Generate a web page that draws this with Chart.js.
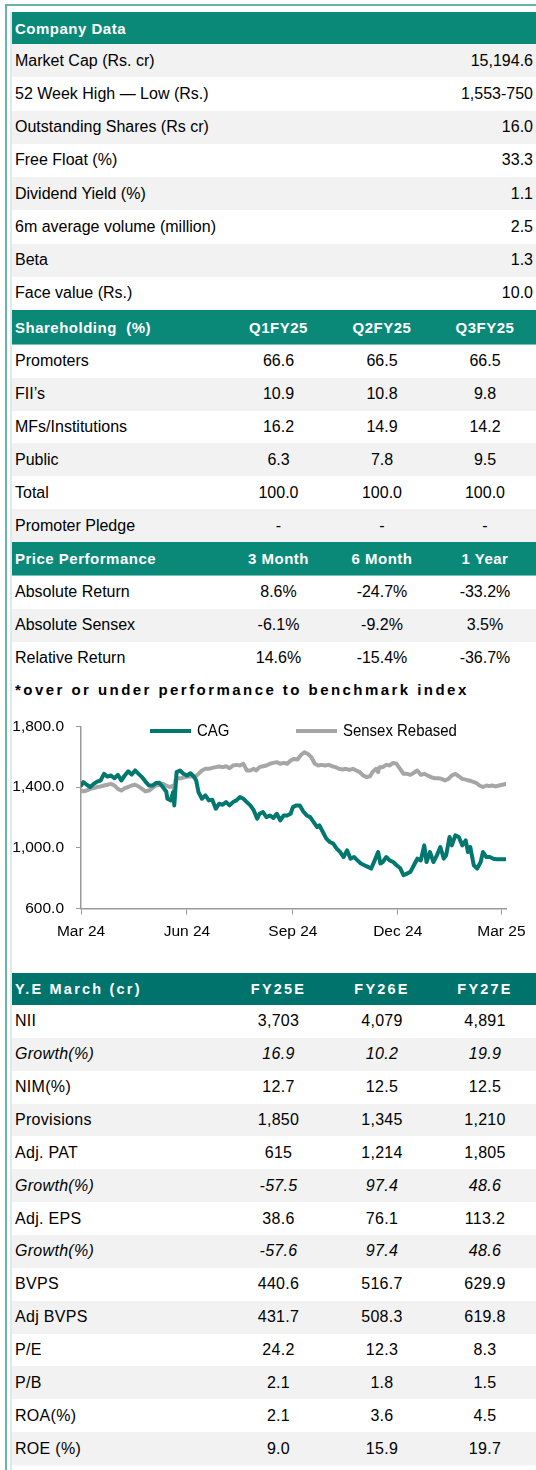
<!DOCTYPE html>
<html lang="en">
<head>
    <meta charset="UTF-8">
    <title>CAG - Company Data</title>
    <script src="https://cdn.jsdelivr.net/npm/chart.js@4"></script>
    <style>
        body { margin: 0; background: #fff; font-family: "Liberation Sans", Arial, sans-serif; color: #000; }
        #page { position: relative; width: 536px; height: 1470px; overflow: hidden; }
        .edge-left { position: absolute; left: 5px; top: 4px; width: 2px; height: 1466px; background: #62b6ab; }
        .edge-top { position: absolute; left: 5px; top: 4px; width: 531px; height: 2px; background: #62b6ab; }
        .edge-inner { position: absolute; left: 10px; top: 12px; width: 2px; height: 1458px; background: #e6e6e6; }
        #content { position: absolute; left: 12px; top: 12px; width: 524px; }
        .row { display: flex; align-items: center; height: 33.25px; font-size: 16px; }
        .row.gray { background: #f2f2f2; }
        .row .lab { flex: 1; padding-left: 3px; }
        .row .val { padding-right: 3px; text-align: right; }
        .c0 { width: 215px; padding-left: 3px; box-sizing: border-box; }
        .c1 { width: 103px; text-align: center; }
        .c2 { width: 104px; text-align: center; }
        .c3 { width: 102px; text-align: center; }
        .head { display: flex; align-items: center; background: #0a8979; color: #fff; font-weight: bold; font-size: 15px; letter-spacing: 0.5px; }
        .head.line { border-bottom: 1px solid #74c3b8; box-sizing: border-box; }
        .head.dark { background: #00736d; font-size: 14.5px; letter-spacing: 2.2px; }
        .sh .row { height: 32.83px; }
        .pp .row { height: 33px; }
        .fin .row { height: 32.86px; letter-spacing: 0.3px; }
        .it { font-style: italic; }
        .note { height: 30px; display: flex; align-items: center; padding-left: 3px; font-weight: bold; font-size: 15px; letter-spacing: 2.45px; }
        #chartBox { position: relative; width: 524px; height: 240px; }
        .legend { position: absolute; top: 16px; height: 20px; display: flex; align-items: center; font-size: 17px; }
        .legend i { display: inline-block; width: 41px; height: 4px; margin-right: 6px; }
        .legend span { display: inline-block; transform: scaleX(0.88); transform-origin: left center; }
    </style>
</head>
<body>
<div id="page">
    <div class="edge-left"></div>
    <div class="edge-top"></div>
    <div class="edge-inner"></div>

    <div id="content">
        <!-- Company data -->
        <div class="head" style="height:32px"><span class="c0">Company Data</span></div>
        <div class="row gray"><span class="lab">Market Cap (Rs. cr)</span><span class="val">15,194.6</span></div>
        <div class="row"><span class="lab">52 Week High — Low (Rs.)</span><span class="val">1,553-750</span></div>
        <div class="row gray"><span class="lab">Outstanding Shares (Rs cr)</span><span class="val">16.0</span></div>
        <div class="row"><span class="lab">Free Float (%)</span><span class="val">33.3</span></div>
        <div class="row gray"><span class="lab">Dividend Yield (%)</span><span class="val">1.1</span></div>
        <div class="row"><span class="lab">6m average volume (million)</span><span class="val">2.5</span></div>
        <div class="row gray"><span class="lab">Beta</span><span class="val">1.3</span></div>
        <div class="row"><span class="lab">Face value (Rs.)</span><span class="val">10.0</span></div>

        <!-- Shareholding -->
        <div class="sh">
            <div class="head line" style="height:35px"><span class="c0">Shareholding&nbsp; (%)</span><span class="c1">Q1FY25</span><span class="c2">Q2FY25</span><span class="c3">Q3FY25</span></div>
            <div class="row"><span class="c0">Promoters</span><span class="c1">66.6</span><span class="c2">66.5</span><span class="c3">66.5</span></div>
            <div class="row gray"><span class="c0">FII’s</span><span class="c1">10.9</span><span class="c2">10.8</span><span class="c3">9.8</span></div>
            <div class="row"><span class="c0">MFs/Institutions</span><span class="c1">16.2</span><span class="c2">14.9</span><span class="c3">14.2</span></div>
            <div class="row gray"><span class="c0">Public</span><span class="c1">6.3</span><span class="c2">7.8</span><span class="c3">9.5</span></div>
            <div class="row"><span class="c0">Total</span><span class="c1">100.0</span><span class="c2">100.0</span><span class="c3">100.0</span></div>
            <div class="row gray"><span class="c0">Promoter Pledge</span><span class="c1">-</span><span class="c2">-</span><span class="c3">-</span></div>
        </div>

        <!-- Price performance -->
        <div class="pp">
            <div class="head line" style="height:34px"><span class="c0">Price Performance</span><span class="c1">3 Month</span><span class="c2">6 Month</span><span class="c3">1 Year</span></div>
            <div class="row"><span class="c0">Absolute Return</span><span class="c1">8.6%</span><span class="c2">-24.7%</span><span class="c3">-33.2%</span></div>
            <div class="row gray"><span class="c0">Absolute Sensex</span><span class="c1">-6.1%</span><span class="c2">-9.2%</span><span class="c3">3.5%</span></div>
            <div class="row"><span class="c0">Relative Return</span><span class="c1">14.6%</span><span class="c2">-15.4%</span><span class="c3">-36.7%</span></div>
        </div>
        <div class="note">*over or under performance to benchmark index</div>

        <!-- Price chart -->
        <div id="chartBox">
            <canvas id="price-chart" width="524" height="240"></canvas>
            <div class="legend" style="left:138px"><i style="background:#00786f"></i><span>CAG</span></div>
            <div class="legend" style="left:284px"><i style="background:#a6a6a6"></i><span>Sensex Rebased</span></div>
        </div>

        <!-- Financials -->
        <div class="fin" style="margin-top:28px">
            <div class="head dark" style="height:32px"><span class="c0">Y.E March (cr)</span><span class="c1">FY25E</span><span class="c2">FY26E</span><span class="c3">FY27E</span></div>
            <div class="row"><span class="c0">NII</span><span class="c1">3,703</span><span class="c2">4,079</span><span class="c3">4,891</span></div>
            <div class="row gray it"><span class="c0">Growth(%)</span><span class="c1">16.9</span><span class="c2">10.2</span><span class="c3">19.9</span></div>
            <div class="row"><span class="c0">NIM(%)</span><span class="c1">12.7</span><span class="c2">12.5</span><span class="c3">12.5</span></div>
            <div class="row gray"><span class="c0">Provisions</span><span class="c1">1,850</span><span class="c2">1,345</span><span class="c3">1,210</span></div>
            <div class="row"><span class="c0">Adj. PAT</span><span class="c1">615</span><span class="c2">1,214</span><span class="c3">1,805</span></div>
            <div class="row gray it"><span class="c0">Growth(%)</span><span class="c1">-57.5</span><span class="c2">97.4</span><span class="c3">48.6</span></div>
            <div class="row"><span class="c0">Adj. EPS</span><span class="c1">38.6</span><span class="c2">76.1</span><span class="c3">113.2</span></div>
            <div class="row gray it"><span class="c0">Growth(%)</span><span class="c1">-57.6</span><span class="c2">97.4</span><span class="c3">48.6</span></div>
            <div class="row"><span class="c0">BVPS</span><span class="c1">440.6</span><span class="c2">516.7</span><span class="c3">629.9</span></div>
            <div class="row gray"><span class="c0">Adj BVPS</span><span class="c1">431.7</span><span class="c2">508.3</span><span class="c3">619.8</span></div>
            <div class="row"><span class="c0">P/E</span><span class="c1">24.2</span><span class="c2">12.3</span><span class="c3">8.3</span></div>
            <div class="row gray"><span class="c0">P/B</span><span class="c1">2.1</span><span class="c2">1.8</span><span class="c3">1.5</span></div>
            <div class="row"><span class="c0">ROA(%)</span><span class="c1">2.1</span><span class="c2">3.6</span><span class="c3">4.5</span></div>
            <div class="row gray"><span class="c0">ROE (%)</span><span class="c1">9.0</span><span class="c2">15.9</span><span class="c3">19.7</span></div>
        </div>
    </div>
</div>

<script>
    // price data: days counted from 1 Mar 2024
    const cagDays = [0, 2, 5, 8, 11, 14, 17, 20, 23, 26, 29, 32, 35, 38, 41, 44, 47, 50, 53, 56, 59, 62, 65, 68, 71, 74, 75, 78, 80, 81, 83, 86, 89, 92, 95, 98, 100, 102, 105, 108, 111, 114, 117, 120, 123, 126, 129, 132, 135, 138, 141, 144, 147, 150, 153, 155, 158, 161, 164, 167, 170, 173, 176, 179, 182, 184, 187, 190, 193, 196, 199, 202, 205, 207, 210, 213, 216, 219, 222, 225, 228, 231, 234, 237, 240, 243, 246, 249, 252, 255, 258, 260, 262, 265, 268, 271, 274, 277, 280, 283, 286, 289, 292, 295, 298, 300, 303, 306, 309, 312, 315, 317, 320, 322, 325, 328, 331, 334, 336, 338, 341, 344, 347, 349, 352, 355, 358, 361, 364, 369];
    const cagValues = [1410, 1432, 1415, 1400, 1421, 1436, 1443, 1487, 1469, 1476, 1458, 1480, 1443, 1476, 1504, 1482, 1509, 1487, 1465, 1436, 1410, 1410, 1426, 1428, 1400, 1371, 1323, 1312, 1367, 1279, 1498, 1509, 1487, 1476, 1491, 1469, 1443, 1367, 1323, 1345, 1312, 1316, 1257, 1290, 1283, 1301, 1279, 1301, 1312, 1334, 1323, 1301, 1279, 1246, 1191, 1224, 1235, 1202, 1213, 1196, 1224, 1180, 1213, 1213, 1224, 1268, 1279, 1279, 1239, 1213, 1202, 1169, 1136, 1147, 1104, 1060, 1038, 1027, 994, 972, 939, 983, 928, 939, 917, 896, 885, 874, 863, 917, 972, 896, 906, 939, 917, 906, 885, 867, 819, 830, 841, 885, 928, 917, 1016, 906, 972, 906, 950, 1005, 928, 950, 1071, 1016, 1082, 1071, 1016, 1049, 972, 1005, 885, 863, 906, 972, 939, 939, 928, 924, 924, 924];

    const sensexDays = [0, 2, 5, 8, 11, 14, 17, 20, 23, 26, 29, 32, 35, 38, 41, 44, 47, 50, 53, 56, 59, 62, 65, 68, 71, 74, 77, 80, 81, 82, 84, 87, 90, 93, 96, 99, 102, 105, 108, 111, 114, 117, 120, 123, 126, 129, 132, 135, 138, 141, 144, 147, 150, 152, 155, 158, 161, 164, 167, 170, 173, 176, 179, 182, 185, 188, 191, 194, 197, 200, 203, 206, 209, 212, 215, 218, 221, 224, 227, 230, 233, 236, 239, 242, 245, 248, 251, 253, 256, 258, 259, 262, 265, 268, 271, 274, 277, 280, 283, 286, 289, 292, 295, 298, 301, 304, 307, 310, 313, 316, 319, 322, 325, 328, 331, 334, 337, 340, 343, 346, 349, 352, 354, 357, 360, 363, 369];
    const sensexValues = [1377, 1371, 1377, 1388, 1393, 1400, 1404, 1410, 1415, 1421, 1410, 1388, 1377, 1393, 1400, 1410, 1415, 1404, 1388, 1371, 1377, 1393, 1410, 1415, 1421, 1410, 1400, 1410, 1362, 1443, 1458, 1458, 1465, 1469, 1471, 1465, 1487, 1509, 1520, 1520, 1526, 1531, 1535, 1531, 1537, 1524, 1542, 1546, 1542, 1553, 1509, 1509, 1520, 1509, 1531, 1537, 1542, 1553, 1559, 1564, 1553, 1559, 1553, 1575, 1585, 1581, 1612, 1629, 1618, 1596, 1553, 1542, 1546, 1542, 1546, 1537, 1531, 1520, 1516, 1520, 1513, 1520, 1509, 1498, 1476, 1465, 1471, 1498, 1520, 1498, 1531, 1531, 1546, 1542, 1559, 1553, 1520, 1487, 1487, 1480, 1494, 1509, 1480, 1487, 1476, 1465, 1458, 1458, 1454, 1443, 1454, 1476, 1487, 1471, 1454, 1449, 1443, 1436, 1428, 1410, 1400, 1410, 1406, 1410, 1404, 1410, 1421];

    // axis ticks
    const monthTickDays = [0, 92, 184, 275, 365];
    const monthTickLabels = ['Mar 24', 'Jun 24', 'Sep 24', 'Dec 24', 'Mar 25'];
    const priceTicks = [600, 1000, 1400, 1800];

    const toPoints = (days, values) => days.map((d, i) => ({ x: d, y: values[i] }));

    const chartFont = { family: '"Liberation Sans", Arial, sans-serif', size: 15.5 };
    const axisColor = '#9a9a9a';

    new Chart(document.getElementById('price-chart'), {
        type: 'line',
        data: {
            datasets: [{
                label: 'CAG',
                data: toPoints(cagDays, cagValues),
                borderColor: '#00786f',
                borderWidth: 4,
                pointRadius: 0,
                borderJoinStyle: 'round',
                borderCapStyle: 'round'
            }, {
                label: 'Sensex Rebased',
                data: toPoints(sensexDays, sensexValues),
                borderColor: '#a6a6a6',
                borderWidth: 4,
                pointRadius: 0,
                borderJoinStyle: 'round',
                borderCapStyle: 'round'
            }]
        },
        options: {
            responsive: false,
            animation: false,
            devicePixelRatio: 1,
            layout: { padding: { top: 16, right: 30, left: 0, bottom: 0 } },
            plugins: { legend: { display: false }, tooltip: { enabled: false } },
            scales: {
                x: {
                    type: 'linear',
                    min: 0,
                    max: 369,
                    afterBuildTicks: (scale) => { scale.ticks = monthTickDays.map(v => ({ value: v })); },
                    afterFit: (scale) => { scale.height = 36.5; },
                    grid: { drawOnChartArea: false, drawTicks: true, tickLength: 6, color: axisColor },
                    border: { display: true, color: axisColor, width: 1.5 },
                    ticks: {
                        autoSkip: false,
                        maxRotation: 0,
                        padding: 8,
                        color: '#000',
                        font: chartFont,
                        callback: (v) => monthTickLabels[monthTickDays.indexOf(v)]
                    }
                },
                y: {
                    min: 600,
                    max: 1800,
                    afterBuildTicks: (scale) => { scale.ticks = priceTicks.map(v => ({ value: v })); },
                    afterFit: (scale) => { scale.width = 69; },
                    grid: { drawOnChartArea: false, drawTicks: true, tickLength: 5, color: axisColor },
                    border: { display: true, color: axisColor, width: 1.5 },
                    ticks: {
                        padding: 12,
                        color: '#000',
                        font: chartFont,
                        callback: (v) => v.toLocaleString('en-US', { minimumFractionDigits: 1, maximumFractionDigits: 1 })
                    }
                }
            }
        }
    });
</script>
</body>
</html>
